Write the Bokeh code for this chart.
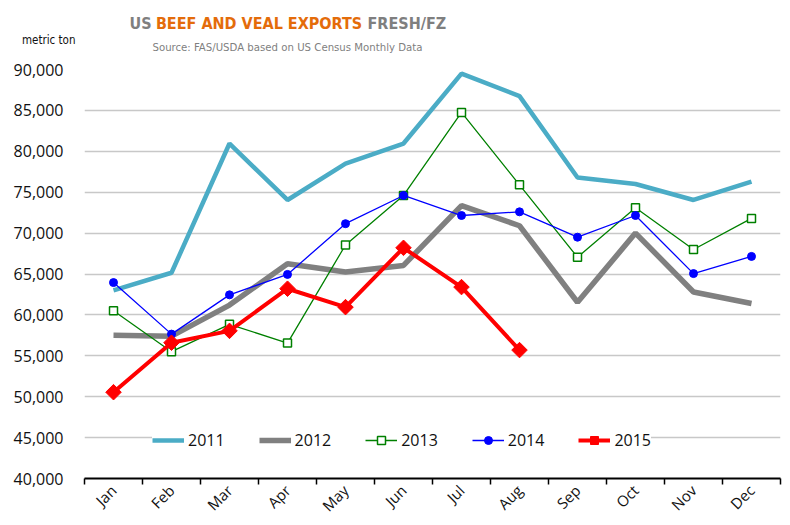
import math
from bokeh.plotting import figure
from bokeh.layouts import column
from bokeh.models import (FixedTicker, Label, Legend, LegendItem,
                          NumeralTickFormatter, Range1d)
from bokeh.embed import file_html
from bokeh.resources import INLINE

months = ["Jan", "Feb", "Mar", "Apr", "May", "Jun", "Jul", "Aug", "Sep", "Oct", "Nov", "Dec"]
y2011 = [63000, 65150, 80950, 74050, 78500, 80950, 89500, 86750, 76800, 76000, 74050, 76300]
y2012 = [57500, 57400, 61200, 66250, 65250, 66050, 73350, 70900, 61550, 70000, 62800, 61400]
y2013 = [60500, 55500, 58850, 56550, 68550, 74600, 84750, 75900, 67050, 73100, 68000, 71800]
y2014 = [63950, 57650, 62450, 64950, 71150, 74600, 72150, 72600, 69500, 72150, 65050, 67150]
y2015 = [50550, 56600, 58050, 63200, 60950, 68200, 63400, 55700]
y_ticks = [40000, 45000, 50000, 55000, 60000, 65000, 70000, 75000, 80000, 85000, 90000]

xc = [i + 0.5 for i in range(len(months))]

LEFT = 84
# ---- header (title, subtitle, unit) ----
HEAD_H = 60
head = figure(width=790, height=HEAD_H, output_backend="svg", toolbar_location=None,
              title=None, x_axis_type=None,
              x_range=Range1d(0, 1), y_range=Range1d(0, HEAD_H),
              min_border_left=LEFT, min_border_right=10,
              min_border_top=0, min_border_bottom=0)
head.outline_line_color = None
head.grid.visible = False
# unit text carried by the header's left axis
unit_pos = HEAD_H - 39
head.yaxis.ticker = FixedTicker(ticks=[unit_pos])
head.yaxis.major_label_overrides = {unit_pos: "metric ton"}
head.yaxis.axis_line_color = None
head.yaxis.major_tick_line_color = None
head.yaxis.minor_tick_line_color = None
head.yaxis.major_tick_out = 0
head.yaxis.major_tick_in = 0
head.yaxis.major_label_standoff = 9
cond = "DejaVu Sans Condensed, DejaVu Sans"
head.yaxis.major_label_text_font = cond
head.yaxis.major_label_text_font_size = "11.5px"
head.yaxis.major_label_text_color = "#111111"

TB = HEAD_H - 28 + 5
head.add_layout(Label(x=151 - LEFT, y=TB, x_units="screen", y_units="screen", text="US",
                      text_font=cond, text_font_style="bold", text_font_size="16px",
                      text_color="#7F7F7F", text_baseline="alphabetic", text_align="right"))
head.add_layout(Label(x=258.5 - LEFT, y=TB, x_units="screen", y_units="screen",
                      text="BEEF AND VEAL EXPORTS", text_font=cond, text_font_style="bold",
                      text_font_size="16px", text_color="#E46C0A", text_baseline="alphabetic",
                      text_align="center"))
head.add_layout(Label(x=367 - LEFT, y=TB, x_units="screen", y_units="screen", text="FRESH/FZ",
                      text_font=cond, text_font_style="bold", text_font_size="16px",
                      text_color="#7F7F7F", text_baseline="alphabetic", text_align="left"))
head.add_layout(Label(x=287 - LEFT, y=HEAD_H - 52 + 5, x_units="screen", y_units="screen",
                      text="Source: FAS/USDA based on US Census Monthly Data", text_font=cond,
                      text_font_size="11.3px", text_color="#7F7F7F", text_baseline="alphabetic",
                      text_align="center"))

# ---- main chart ----
p = figure(width=790, height=525 - HEAD_H, output_backend="svg", toolbar_location=None,
           title=None, x_range=Range1d(0, 12), y_range=Range1d(40000, 90000),
           min_border_left=LEFT, min_border_right=10, min_border_top=69 - HEAD_H,
           min_border_bottom=45)
p.outline_line_color = None
p.background_fill_color = "white"
p.border_fill_color = "white"

p.xgrid.visible = False
p.ygrid.grid_line_color = "#C8C8C8"
p.ygrid.grid_line_width = 1.5

p.yaxis.ticker = FixedTicker(ticks=y_ticks)
p.yaxis.formatter = NumeralTickFormatter(format="0,0")
p.yaxis.axis_line_color = None
p.yaxis.major_tick_line_color = None
p.yaxis.minor_tick_line_color = None
p.yaxis.major_tick_out = 0
p.yaxis.major_tick_in = 0
p.yaxis.major_label_standoff = 21
p.yaxis.major_label_text_font = "Open Sans"
p.yaxis.major_label_text_font_size = "16px"
p.yaxis.major_label_text_color = "#111111"

p.xaxis.ticker = FixedTicker(ticks=xc, minor_ticks=list(range(13)))
p.xaxis.major_label_overrides = {c: m for c, m in zip(xc, months)}
p.xaxis.axis_line_color = "black"
p.xaxis.axis_line_width = 2
p.xaxis.major_tick_line_color = None
p.xaxis.major_tick_out = 0
p.xaxis.major_tick_in = 0
p.xaxis.minor_tick_line_color = "black"
p.xaxis.minor_tick_line_width = 1.5
p.xaxis.minor_tick_out = 6
p.xaxis.minor_tick_in = 0
p.xaxis.major_label_orientation = math.pi / 4
p.xaxis.major_label_standoff = 3
p.xaxis.major_label_text_font = "Open Sans"
p.xaxis.major_label_text_font_size = "15px"
p.xaxis.major_label_text_color = "#111111"

r11 = p.line(xc, y2011, line_color="#4BACC6", line_width=4.5)
r12 = p.line(xc, y2012, line_color="#808080", line_width=5.5)
r13l = p.line(xc, y2013, line_color="#008000", line_width=1.3)
r13m = p.scatter(xc, y2013, marker="square", size=8, fill_color="white",
                 line_color="#008000", line_width=1.5)
r14l = p.line(xc, y2014, line_color="#0000FF", line_width=1.3)
r14m = p.scatter(xc, y2014, marker="circle", size=8, fill_color="#0000FF",
                 line_color="#0000FF")
x15 = xc[:len(y2015)]
r15l = p.line(x15, y2015, line_color="#FF0000", line_width=4)
r15m = p.scatter(x15, y2015, marker="square", angle=math.pi / 4, size=11,
                 fill_color="#FF0000", line_color="#FF0000")

legend = Legend(items=[
    LegendItem(label="2011", renderers=[r11]),
    LegendItem(label="2012", renderers=[r12]),
    LegendItem(label="2013", renderers=[r13l, r13m]),
    LegendItem(label="2014", renderers=[r14l, r14m]),
    LegendItem(label="2015", renderers=[r15l, r15m]),
], orientation="horizontal", location=(68, 27), background_fill_color="white",
    background_fill_alpha=1.0, border_line_color=None, label_text_font="Open Sans",
    label_text_font_size="16px", label_text_color="#111111", glyph_width=32,
    glyph_height=20, label_standoff=4, spacing=34, padding=25)
p.add_layout(legend)

layout = column(head, p, spacing=0)
open("out.html", "w").write(file_html(layout, INLINE))
